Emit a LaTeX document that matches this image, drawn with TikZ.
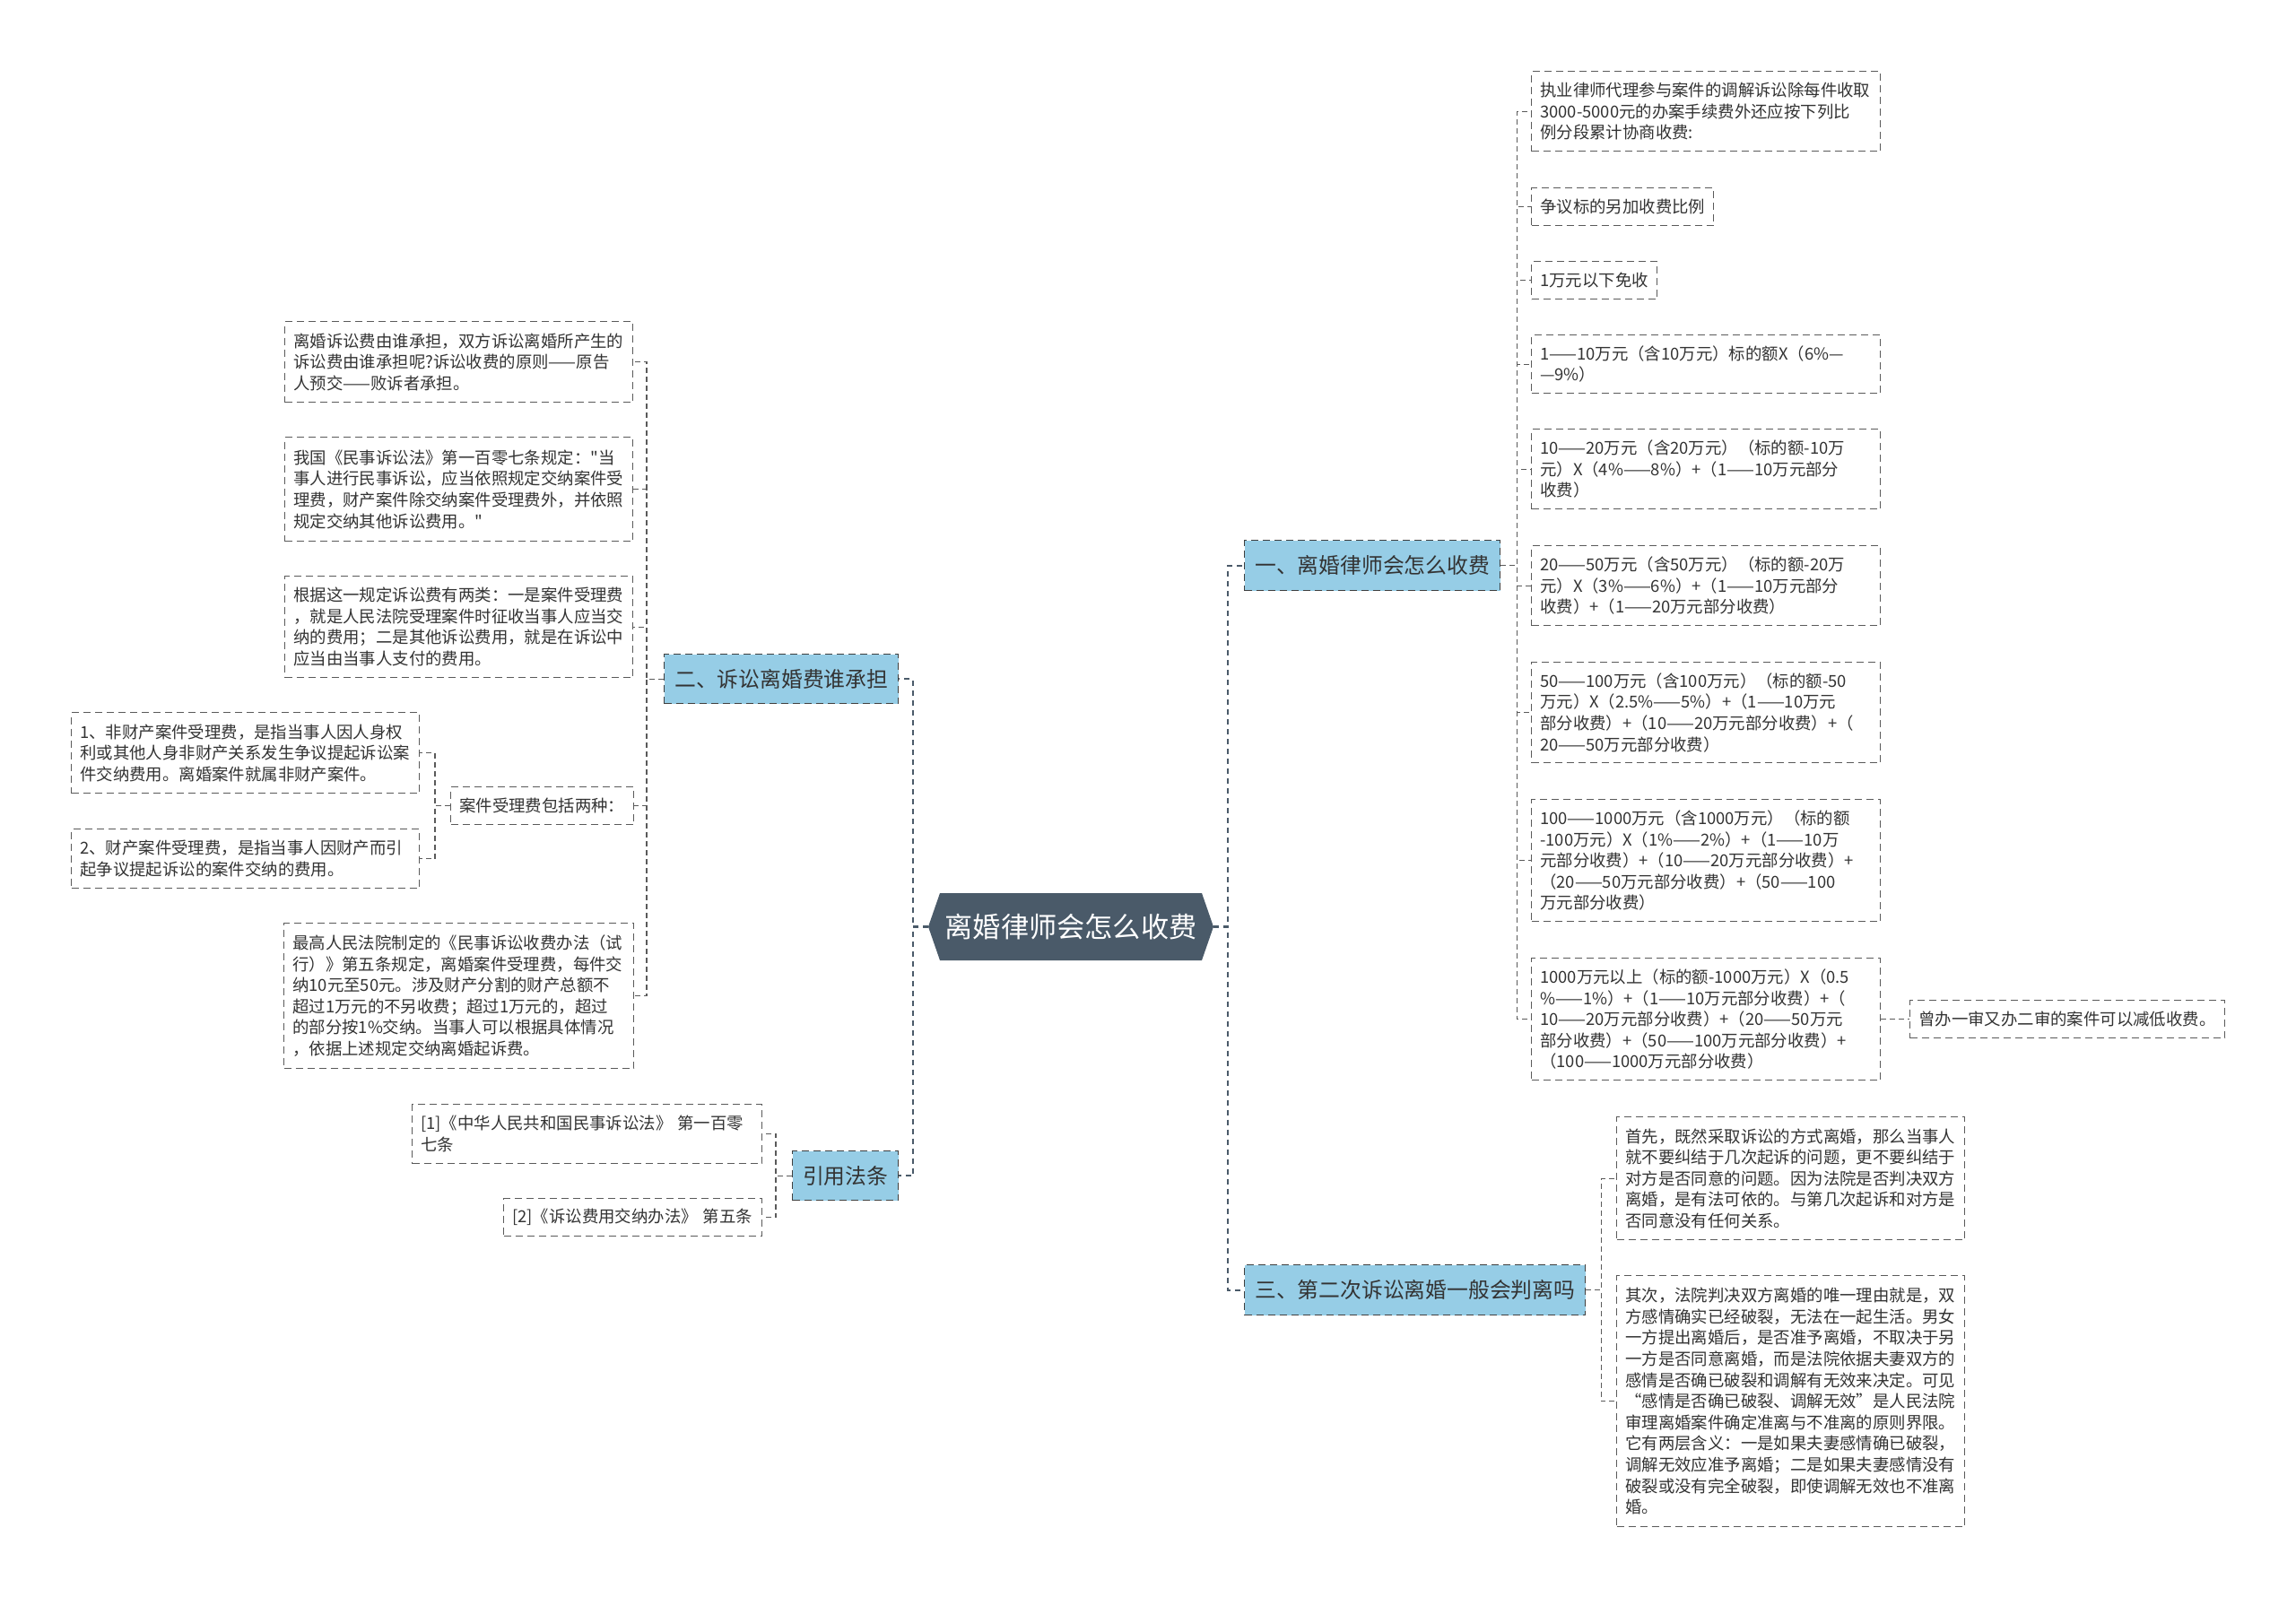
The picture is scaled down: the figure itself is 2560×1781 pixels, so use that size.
\documentclass[tikz,border=0pt]{standalone}
\usepackage{fontspec}
\setmainfont{Noto Sans CJK SC}
\newfontfamily\cjkplain{Noto Sans CJK SC}
\usetikzlibrary{calc}
\definecolor{rootfill}{RGB}{74,90,105}
\definecolor{brfill}{RGB}{150,205,230}
\definecolor{lineg}{RGB}{90,90,90}
\definecolor{txt}{RGB}{51,51,51}
\newcommand\leaffont{\cjkplain\fontsize{9.2pt}{11.8pt}\selectfont}
\newcommand\brfont{\cjkplain\fontsize{11.9pt}{14pt}\selectfont}
\newcommand\rootfont{\cjkplain\fontsize{15.6pt}{18pt}\selectfont}
\begin{document}
\begin{tikzpicture}[x=0.5pt,y=-0.5pt,
 leaf/.style={draw=lineg, dash pattern=on 4pt off 2.5pt, line width=0.7pt, inner xsep=4.75pt, inner ysep=0pt, align=left, anchor=north west, font=\leaffont, text=txt},
 branch/.style={draw=lineg!70!black, fill=brfill, dash pattern=on 4pt off 2.5pt, line width=0.7pt, inner sep=0pt, anchor=north west, font=\brfont, text=txt},
 conn/.style={draw=lineg, dash pattern=on 3pt off 2pt, line width=0.6pt},
 trunk/.style={draw=rootfill, dash pattern=on 3pt off 2.5pt, line width=1.1pt},
]
\fill[white] (0,0) rectangle (2560,1781);
\useasboundingbox (0,0) rectangle (2560,1781);

% root
\coordinate (rootE) at (1353,1033.5);
\coordinate (rootW) at (1035,1033.5);
\fill[rootfill] (1048,996) -- (1340,996) -- (rootE) -- (1340,1071) -- (1048,1071) -- (rootW) -- cycle;
\node[inner sep=0pt, minimum width=146pt, minimum height=37.5pt, font=\rootfont, text=white] (root) at (1194,1033.5) {离婚律师会怎么收费};

% branches
\node[branch, minimum width=142.5pt, minimum height=28pt] (b1) at (1387,602) {一、离婚律师会怎么收费};
\node[branch, minimum width=130.5pt, minimum height=27.5pt] (b2) at (740,729) {二、诉讼离婚费谁承担};
\node[branch, minimum width=190pt, minimum height=28pt] (b3) at (1387,1410) {三、第二次诉讼离婚一般会判离吗};
\node[branch, minimum width=59pt, minimum height=27.5pt] (b4) at (883,1283) {引用法条};

% right leaves of b1
\node[leaf, text width=185pt, minimum height=44.5pt] (r1) at (1707,79) {执业律师代理参与案件的调解诉讼除每件收取\\3000-5000元的办案手续费外还应按下列比\\例分段累计协商收费:};
\node[leaf, text width=92pt, minimum height=21pt] (r2) at (1707,209) {争议标的另加收费比例};
\node[leaf, text width=60.5pt, minimum height=21pt] (r3) at (1707,291) {1万元以下免收};
\node[leaf, text width=185pt, minimum height=32.5pt] (r4) at (1707,373) {1——10万元（含10万元）标的额X（6\%—\\—9\%）};
\node[leaf, text width=185pt, minimum height=44.5pt] (r5) at (1707,478) {10——20万元（含20万元）（标的额-10万\\元）X（4\%——8\%）+（1——10万元部分\\收费）};
\node[leaf, text width=185pt, minimum height=44.5pt] (r6) at (1707,608) {20——50万元（含50万元）（标的额-20万\\元）X（3\%——6\%）+（1——10万元部分\\收费）+（1——20万元部分收费）};
\node[leaf, text width=185pt, minimum height=56pt] (r7) at (1707,738) {50——100万元（含100万元）（标的额-50\\万元）X（2.5\%——5\%）+（1——10万元\\部分收费）+（10——20万元部分收费）+（\\20——50万元部分收费）};
\node[leaf, text width=185pt, minimum height=68pt] (r8) at (1707,891) {100——1000万元（含1000万元）（标的额\\-100万元）X（1\%——2\%）+（1——10万\\元部分收费）+（10——20万元部分收费）+\\（20——50万元部分收费）+（50——100\\万元部分收费）};
\node[leaf, text width=185pt, minimum height=68pt] (r9) at (1707,1068) {1000万元以上（标的额-1000万元）X（0.5\\\%——1\%）+（1——10万元部分收费）+（\\10——20万元部分收费）+（20——50万元\\部分收费）+（50——100万元部分收费）+\\（100——1000万元部分收费）};
\node[leaf, text width=166pt, minimum height=21pt] (r10) at (2129,1115) {曾办一审又办二审的案件可以减低收费。};

% right leaves of b3
\node[leaf, text width=184.5pt, minimum height=68.5pt] (s1) at (1802,1245) {首先，既然采取诉讼的方式离婚，那么当事人\\就不要纠结于几次起诉的问题，更不要纠结于\\对方是否同意的问题。因为法院是否判决双方\\离婚，是有法可依的。与第几次起诉和对方是\\否同意没有任何关系。};
\node[leaf, text width=184.5pt, minimum height=140pt] (s2) at (1802,1422) {其次，法院判决双方离婚的唯一理由就是，双\\方感情确实已经破裂，无法在一起生活。男女\\一方提出离婚后，是否准予离婚，不取决于另\\一方是否同意离婚，而是法院依据夫妻双方的\\感情是否确已破裂和调解有无效来决定。可见\\“感情是否确已破裂、调解无效”是人民法院\\审理离婚案件确定准离与不准离的原则界限。\\它有两层含义：一是如果夫妻感情确已破裂，\\调解无效应准予离婚；二是如果夫妻感情没有\\破裂或没有完全破裂，即使调解无效也不准离\\婚。};

% left leaves of b2
\node[leaf, text width=184.5pt, minimum height=45pt] (l1) at (317,358) {离婚诉讼费由谁承担，双方诉讼离婚所产生的\\诉讼费由谁承担呢?诉讼收费的原则——原告\\人预交——败诉者承担。};
\node[leaf, text width=184.5pt, minimum height=58pt] (l2) at (317,487) {我国《民事诉讼法》第一百零七条规定："当\\事人进行民事诉讼，应当依照规定交纳案件受\\理费，财产案件除交纳案件受理费外，并依照\\规定交纳其他诉讼费用。"};
\node[leaf, text width=184.5pt, minimum height=56.5pt] (l3) at (317,642) {根据这一规定诉讼费有两类：一是案件受理费\\，就是人民法院受理案件时征收当事人应当交\\纳的费用；二是其他诉讼费用，就是在诉讼中\\应当由当事人支付的费用。};
\node[leaf, text width=92.5pt, minimum height=21pt] (l4) at (502,877) {案件受理费包括两种：};
\node[leaf, text width=184.5pt, minimum height=45pt] (l4a) at (79,794) {1、非财产案件受理费，是指当事人因人身权\\利或其他人身非财产关系发生争议提起诉讼案\\件交纳费用。离婚案件就属非财产案件。};
\node[leaf, text width=184.5pt, minimum height=33pt] (l4b) at (79,924) {2、财产案件受理费，是指当事人因财产而引\\起争议提起诉讼的案件交纳的费用。};
\node[leaf, text width=185.5pt, minimum height=81pt] (l5) at (316,1029) {最高人民法院制定的《民事诉讼收费办法（试\\行）》第五条规定，离婚案件受理费，每件交\\纳10元至50元。涉及财产分割的财产总额不\\超过1万元的不另收费；超过1万元的，超过\\的部分按1\%交纳。当事人可以根据具体情况\\，依据上述规定交纳离婚起诉费。};

% left leaves of b4
\node[leaf, text width=185.5pt, minimum height=33pt] (ref1) at (459,1231) {[1]《中华人民共和国民事诉讼法》 第一百零\\七条};
\node[leaf, text width=134.5pt, minimum height=21pt] (ref2) at (561,1336) {[2]《诉讼费用交纳办法》 第五条};

% root connectors
\draw[trunk] (rootE) -- ++(16,0) |- (b1.west);
\draw[trunk] (rootE) -- ++(16,0) |- (b3.west);
\draw[trunk] (rootW) -- ++(-17,0) |- (b2.east);
\draw[trunk] (rootW) -- ++(-17,0) |- (b4.east);

% b1 connectors
\foreach \n in {r1,r2,r3,r4,r5,r6,r7,r8,r9}
  \draw[conn] (b1.east) -- ++(18,0) |- (\n.west);
\draw[conn] (r9.east) -- (r10.west);

% b3 connectors
\draw[conn] (b3.east) -- ++(17,0) |- (s1.west);
\draw[conn] (b3.east) -- ++(17,0) |- (s2.west);

% b2 connectors
\foreach \n in {l1,l2,l3,l4,l5}
  \draw[conn] (b2.west) -- ++(-19,0) |- (\n.east);
\draw[conn] (l4.west) -- ++(-17,0) |- (l4a.east);
\draw[conn] (l4.west) -- ++(-17,0) |- (l4b.east);

% b4 connectors
\draw[conn] (b4.west) -- ++(-18,0) |- (ref1.east);
\draw[conn] (b4.west) -- ++(-18,0) |- (ref2.east);
\end{tikzpicture}
\end{document}
